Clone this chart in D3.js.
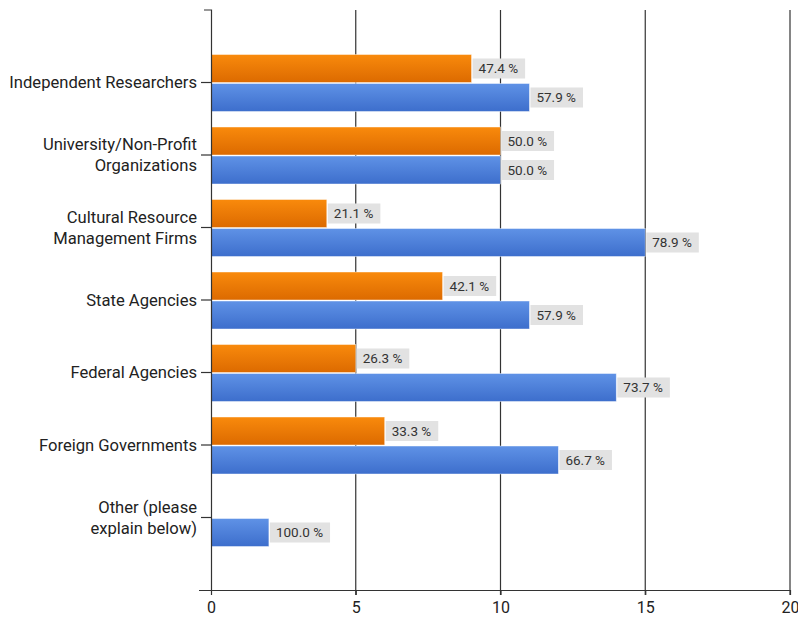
<!DOCTYPE html>
<html>
<head>
<meta charset="utf-8">
<script src="https://cdn.jsdelivr.net/npm/d3@7"></script>
<style>
  html, body { margin: 0; padding: 0; background: #fff; }
  svg { display: block; }
  .cat text, .xaxis text { font-family: Roboto, "Open Sans", sans-serif; fill: #222; }
</style>
</head>
<body>
<svg id="chart" width="798" height="622"></svg>
<script>
// Survey categories (multi-line labels split on "\n")
const categories = [
  "Independent Researchers",
  "University/Non-Profit\nOrganizations",
  "Cultural Resource\nManagement Firms",
  "State Agencies",
  "Federal Agencies",
  "Foreign Governments",
  "Other (please\nexplain below)"
];
// Response counts per category for the two series
const orangeCounts = [9, 10, 4, 8, 5, 6, 0];
const blueCounts   = [11, 10, 15, 11, 14, 12, 2];
// Percent labels shown next to each bar
const orangeLabels = ["47.4 %", "50.0 %", "21.1 %", "42.1 %", "26.3 %", "33.3 %", null];
const blueLabels   = ["57.9 %", "50.0 %", "78.9 %", "57.9 %", "73.7 %", "66.7 %", "100.0 %"];
const xTicks = [0, 5, 10, 15, 20];

const svg = d3.select("#chart");
const plotLeft = 211, plotRight = 790, plotTop = 10, plotBottom = 590;

const x = d3.scaleLinear().domain([0, 20]).range([plotLeft, plotRight]);
const y = d3.scalePoint().domain(categories).range([plotTop, plotBottom]).padding(1);
const barH = 28;

// Gradients for the bar fills
const defs = svg.append("defs");
function grad(id, c1, c2) {
  const g = defs.append("linearGradient").attr("id", id)
    .attr("x1", 0).attr("y1", 0).attr("x2", 0).attr("y2", 1);
  g.append("stop").attr("offset", "0%").attr("stop-color", c1);
  g.append("stop").attr("offset", "100%").attr("stop-color", c2);
}
grad("gOrange", "#f98a0c", "#dc6a00");
grad("gBlue", "#5f92e6", "#3d6ecc");

// Vertical grid lines with short ticks below the baseline
svg.append("g").selectAll("line").data(xTicks.slice(1)).join("line")
  .attr("x1", d => x(d)).attr("x2", d => x(d))
  .attr("y1", plotTop).attr("y2", plotBottom + 5)
  .attr("stroke", "#333").attr("stroke-width", 1.2);

// X axis
const xAxis = svg.append("g").attr("class", "xaxis")
  .attr("transform", `translate(0,${plotBottom})`)
  .call(d3.axisBottom(x).tickValues(xTicks).tickSize(5).tickSizeOuter(0));
xAxis.select(".domain").attr("stroke", "#333").attr("stroke-width", 1.2)
  .attr("d", `M${plotLeft - 12},0.5H${plotRight}`);
xAxis.selectAll(".tick line").attr("stroke", "#333").attr("stroke-width", 1.2);
xAxis.selectAll(".tick text").attr("font-size", 16).attr("dy", "0.95em").attr("fill", "#222");

// Bars and value labels
const rows = categories.map((c, i) => ({
  cat: c, o: orangeCounts[i], b: blueCounts[i], ol: orangeLabels[i], bl: blueLabels[i]
}));

function drawSeries(key, labelKey, fillId, offset) {
  const g = svg.append("g");
  const sel = rows.filter(r => r[key] > 0);
  g.selectAll("rect.bar").data(sel).join("rect").attr("class", "bar")
    .attr("x", x(0)).attr("y", d => y(d.cat) + offset)
    .attr("width", d => x(d[key]) - x(0)).attr("height", barH)
    .attr("fill", `url(#${fillId})`)
    .attr("stroke", "rgba(255,255,255,0.55)").attr("stroke-width", 0.8);
  const lab = g.selectAll("g.lab").data(sel).join("g").attr("class", "lab")
    .attr("transform", d => `translate(${x(d[key]) + 1},${y(d.cat) + offset + barH / 2})`);
  lab.append("rect").attr("x", 0).attr("y", -10).attr("height", 20)
    .attr("fill", "#e2e2e2");
  const txt = lab.append("text").attr("x", 6).attr("y", 0).attr("dy", "0.35em")
    .attr("font-family", "Roboto, 'Open Sans', sans-serif")
    .attr("font-size", 13.5).attr("fill", "#333")
    .text(d => d[labelKey]);
  txt.each(function() {
    const w = this.getComputedTextLength();
    d3.select(this.parentNode).select("rect").attr("width", w + 13);
  });
}
drawSeries("o", "ol", "gOrange", -barH);
drawSeries("b", "bl", "gBlue", 1);

// Y axis: line with outer tick at top, ticks at category centers
const yAxis = svg.append("g");
yAxis.append("path").attr("d", `M${plotLeft - 7},${plotTop}H${plotLeft + 0.5}V${plotBottom}`)
  .attr("fill", "none").attr("stroke", "#333").attr("stroke-width", 1.2);
const cat = yAxis.selectAll("g.cat").data(categories).join("g").attr("class", "cat")
  .attr("transform", d => `translate(0,${y(d)})`);
cat.append("line").attr("x1", plotLeft - 10).attr("x2", plotLeft).attr("stroke", "#333").attr("stroke-width", 1.2);
cat.append("text").attr("text-anchor", "end").attr("font-size", 16.6)
  .attr("x", plotLeft - 14)
  .each(function(d) {
    const lines = d.split("\n");
    const t = d3.select(this);
    const lh = 21;
    const y0 = -((lines.length - 1) * lh) / 2;
    lines.forEach((ln, i) => {
      t.append("tspan").attr("x", plotLeft - 14).attr("y", y0 + i * lh).attr("dy", "0.35em").text(ln);
    });
  });
</script>
</body>
</html>
